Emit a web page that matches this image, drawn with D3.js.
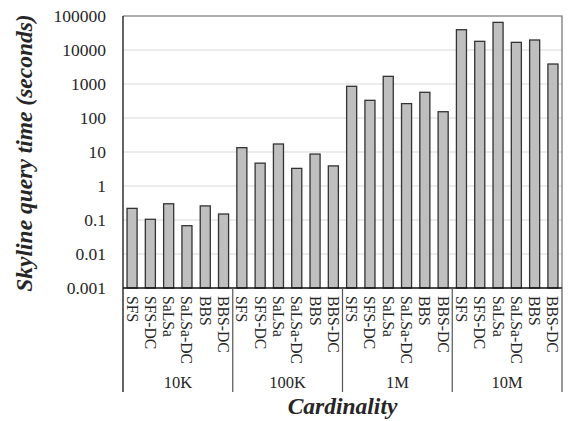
<!DOCTYPE html>
<html>
<head>
<meta charset="utf-8">
<script src="https://cdn.jsdelivr.net/npm/d3@7"></script>
<style>
  body { margin: 0; background: #fff; }
  text { font-family: "Liberation Serif", "Times New Roman", serif; fill: #262626; }
</style>
</head>
<body>
<script>
"use strict";

// data
const groups = ["10K", "100K", "1M", "10M"];
const methods = ["SFS", "SFS-DC", "SaLSa", "SaLSa-DC", "BBS", "BBS-DC"];
const times10K = [0.22, 0.105, 0.30, 0.068, 0.26, 0.15];
const times100K = [13.4, 4.7, 17.2, 3.3, 8.7, 3.9];
const times1M = [855, 331, 1680, 265, 570, 153];
const times10M = [39500, 18000, 65000, 16800, 19700, 3870];
const yTicks = [0.001, 0.01, 0.1, 1, 10, 100, 1000, 10000, 100000];

const allTimes = [times10K, times100K, times1M, times10M];
const rows = [];
groups.forEach((g, gi) => {
    methods.forEach((m, mi) => {
        rows.push({key: g + "|" + m, group: g, method: m, value: allTimes[gi][mi]});
    });
});

const width = 569, height = 421;
// plot area edges (named to avoid clashing with window.top)
const pLeft = 123, pRight = 562, pTop = 16, pBottom = 288, catBottom = 392;

const svg = d3.select("body").append("svg")
    .attr("width", width)
    .attr("height", height);

const y = d3.scaleLog()
    .domain([0.001, 100000])
    .range([pBottom, pTop]);

const x = d3.scaleBand()
    .domain(rows.map(d => d.key))
    .range([pLeft, pRight])
    .paddingInner(0.45)
    .paddingOuter(0.22);

const xGroup = d3.scaleBand()
    .domain(groups)
    .range([pLeft, pRight]);

// gridlines
svg.append("g")
    .selectAll("line")
    .data(yTicks.slice(1))
    .join("line")
    .attr("x1", pLeft)
    .attr("x2", pRight)
    .attr("y1", d => y(d))
    .attr("y2", d => y(d))
    .attr("stroke", "#d9d9d9")
    .attr("stroke-width", 1);

// plot border (top, right)
svg.append("path")
    .attr("d", `M${pLeft},${pTop}H${pRight}V${pBottom}`)
    .attr("fill", "none")
    .attr("stroke", "#6e6e6e")
    .attr("stroke-width", 1.2);

// bars
svg.append("g")
    .selectAll("rect")
    .data(rows)
    .join("rect")
    .attr("x", d => x(d.key))
    .attr("width", x.bandwidth())
    .attr("y", d => y(d.value))
    .attr("height", d => pBottom - y(d.value))
    .attr("fill", "#bfbfbf")
    .attr("stroke", "#333")
    .attr("stroke-width", 1.3);

// y axis
const yAxis = d3.axisLeft(y)
    .tickValues(yTicks)
    .tickFormat(d => String(d))
    .tickSize(0)
    .tickPadding(17);

svg.append("g")
    .attr("transform", `translate(${pLeft},0)`)
    .call(yAxis)
    .call(g => g.select(".domain").remove())
    .selectAll("text")
    .style("font-family", "'Liberation Serif', serif")
    .style("font-size", "17.5px")
    .attr("fill", "#262626");

// axis lines: left and bottom, plus group separators
svg.append("line")
    .attr("x1", pLeft).attr("x2", pLeft)
    .attr("y1", pTop).attr("y2", catBottom)
    .attr("stroke", "#111").attr("stroke-width", 1.3);

svg.append("line")
    .attr("x1", pLeft).attr("x2", pRight)
    .attr("y1", pBottom).attr("y2", pBottom)
    .attr("stroke", "#111").attr("stroke-width", 1.3);

svg.append("g")
    .selectAll("line")
    .data(groups)
    .join("line")
    .attr("x1", d => xGroup(d) + xGroup.bandwidth())
    .attr("x2", d => xGroup(d) + xGroup.bandwidth())
    .attr("y1", pBottom)
    .attr("y2", catBottom)
    .attr("stroke", "#555")
    .attr("stroke-width", 1.2);

// method labels, rotated
svg.append("g")
    .selectAll("text")
    .data(rows)
    .join("text")
    .attr("transform", d => `translate(${x(d.key) + x.bandwidth() / 2},${pBottom + 8}) rotate(90)`)
    .attr("dy", "0.35em")
    .attr("text-anchor", "start")
    .style("font-size", "15.7px")
    .text(d => d.method);

// group labels
svg.append("g")
    .selectAll("text")
    .data(groups)
    .join("text")
    .attr("x", d => xGroup(d) + xGroup.bandwidth() / 2)
    .attr("y", 388)
    .attr("text-anchor", "middle")
    .style("font-size", "16.5px")
    .text(d => d);

// axis titles
svg.append("text")
    .attr("transform", `translate(32,${(pTop + pBottom) / 2 + 1}) rotate(-90)`)
    .attr("text-anchor", "middle")
    .style("font-size", "23.5px")
    .style("font-weight", "bold")
    .style("font-style", "italic")
    .attr("fill", "#111")
    .text("Skyline query time (seconds)");

svg.append("text")
    .attr("x", (pLeft + pRight) / 2)
    .attr("y", 414)
    .attr("text-anchor", "middle")
    .style("font-size", "23.5px")
    .style("font-weight", "bold")
    .style("font-style", "italic")
    .attr("fill", "#111")
    .text("Cardinality");
</script>
</body>
</html>
